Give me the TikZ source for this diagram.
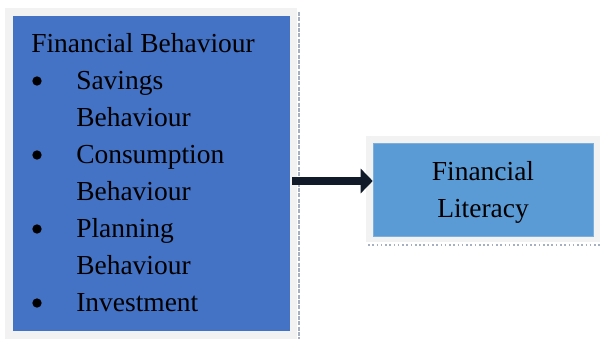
\documentclass[tikz,border=0pt]{standalone}
\usepackage{fontspec}
\setmainfont{Liberation Serif}
\usetikzlibrary{arrows.meta}

\definecolor{boxdark}{HTML}{4472C4}
\definecolor{boxlight}{HTML}{5B9BD5}
\definecolor{framegray}{HTML}{F2F2F2}
\definecolor{rulegray}{HTML}{A7B0C0}
\definecolor{arrowink}{HTML}{111A28}

\tikzset{
  frame/.style={fill=framegray, draw=none},
  item/.style={anchor=base west, inner sep=0pt, font=\fontsize{20.6}{27}\selectfont},
  centred/.style={anchor=base, inner sep=0pt, font=\fontsize{20.6}{27}\selectfont},
  bulletdot/.style={circle, fill=black, inner sep=0pt, minimum size=7pt},
}

\begin{document}
\begin{tikzpicture}[x=0.75pt,y=-0.75pt]
  \useasboundingbox (0,0) rectangle (600,339);
  % grey frames behind the boxes
  \fill[frame] (5,8) rectangle (297,339);
  \fill[frame] (366,136) rectangle (600,242);
  \draw[rulegray, line width=1pt, dash pattern=on 3pt off 1pt] (299,12) -- (299,339);
  \draw[rulegray, line width=1.2pt, dotted] (368,245) -- (600,245);
  % boxes
  \node[fill=boxdark, minimum width=277*0.75pt, minimum height=315*0.75pt, inner sep=0pt] (behav) at (151.5,173.5) {};
  \node[fill=boxlight, draw=boxlight!80!white, minimum width=220*0.75pt, minimum height=93*0.75pt, inner sep=0pt] (lit) at (483,189.5) {};
  % text of the left box
  \node[item] (title) at (31,52) {Financial Behaviour};
  \node[bulletdot] (b1) at (37,81) {};
  \node[item] (sav1) at (76,89) {Savings};
  \node[item] (sav2) at (76,126) {Behaviour};
  \node[bulletdot] (b2) at (37,155) {};
  \node[item] (con1) at (76,163) {Consumption};
  \node[item] (con2) at (76,200) {Behaviour};
  \node[bulletdot] (b3) at (37,229) {};
  \node[item] (pla1) at (76,237) {Planning};
  \node[item] (pla2) at (76,274) {Behaviour};
  \node[bulletdot] (b4) at (37,303) {};
  \node[item] (inv) at (76,311) {Investment};
  % text of the right box
  \node[centred] (lit1) at (483,180) {Financial};
  \node[centred] (lit2) at (483,217) {Literacy};
  % connector
  \coordinate (level) at (330,181);
  \draw[arrowink, line width=6pt, -{Triangle[length=9pt, width=18pt]}] ([xshift=1.5pt]behav.east |- level) -- (lit.west |- level);
\end{tikzpicture}
\end{document}
